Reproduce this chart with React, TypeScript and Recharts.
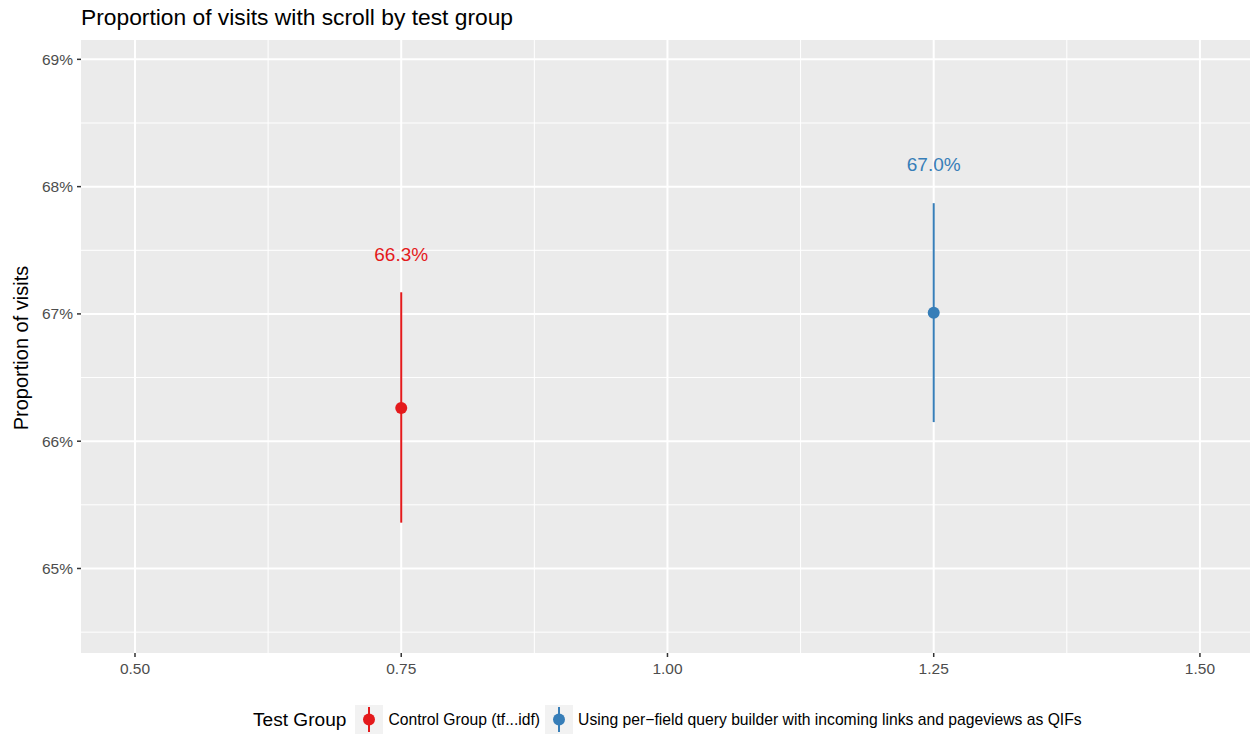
import React from 'react';
import {
  ComposedChart,
  XAxis,
  YAxis,
  CartesianGrid,
  Scatter,
  ErrorBar,
} from 'recharts';

// Test groups, their x positions and proportion estimates (percent) with CI bounds
const groups = [
  'Control Group (tf...idf)',
  'Using per\u2212field query builder with incoming links and pageviews as QIFs',
];
const groupColors = ['#E41A1C', '#377EB8'];
const positions = [0.75, 1.25];
const proportions = [66.26, 67.01];
const lowerBounds = [65.36, 66.15];
const upperBounds = [67.17, 67.87];

const xTicks = [0.5, 0.75, 1.0, 1.25, 1.5];
const xMinor = [0.625, 0.875, 1.125, 1.375];
const yTicks = [65, 66, 67, 68, 69];
const yMinor = [64.5, 65.5, 66.5, 67.5, 68.5];

const X_DOMAIN: [number, number] = [0.4493, 1.547];
const Y_DOMAIN: [number, number] = [64.336, 69.152];
const LABEL_OFFSET = 0.3;

const FONT = '"Liberation Sans", Arial, Helvetica, sans-serif';
const W = 1251;
const H = 734;

const series = groups.map((name, i) => ({
  name,
  color: groupColors[i],
  points: [
    {
      x: positions[i],
      y: proportions[i],
      err: [proportions[i] - lowerBounds[i], upperBounds[i] - proportions[i]],
    },
  ],
  label: [
    {
      x: positions[i],
      y: upperBounds[i] + LABEL_OFFSET,
      text: `${proportions[i].toFixed(1)}%`,
    },
  ],
}));

function Dot(color: string) {
  return (props: any) => <circle cx={props.cx} cy={props.cy} r={6} fill={color} />;
}

function ValueLabel(color: string) {
  return (props: any) => (
    <text
      x={props.cx}
      y={props.cy}
      textAnchor="middle"
      dominantBaseline="central"
      fontSize={19}
      fontFamily={FONT}
      fill={color}
    >
      {props.payload.text}
    </text>
  );
}

function LegendKey({ color }: { color: string }) {
  return (
    <svg width={28} height={29} style={{ display: 'block' }}>
      <rect x={0} y={0} width={28} height={29} fill="#F2F2F2" />
      <line x1={14} x2={14} y1={2} y2={27} stroke={color} strokeWidth={2} />
      <circle cx={14} cy={14.5} r={6} fill={color} />
    </svg>
  );
}

const tickStyle = { fill: '#4D4D4D', fontSize: 15.5, fontFamily: FONT };

export default function App() {
  return (
    <div
      style={{
        position: 'absolute',
        left: 0,
        top: 0,
        width: W,
        height: H,
        background: '#fff',
        fontFamily: FONT,
      }}
    >
      <ComposedChart
        width={W}
        height={H}
        margin={{ top: 40, right: 1, bottom: 51, left: 21 }}
      >
        <CartesianGrid
          fill="#EBEBEB"
          stroke="#FFFFFF"
          strokeWidth={1}
          horizontalValues={yMinor}
          verticalValues={xMinor}
        />
        <CartesianGrid
          stroke="#FFFFFF"
          strokeWidth={2}
          horizontalValues={yTicks}
          verticalValues={xTicks}
        />
        <XAxis
          type="number"
          dataKey="x"
          domain={X_DOMAIN}
          allowDataOverflow
          ticks={xTicks}
          tickFormatter={(v: number) => v.toFixed(2)}
          axisLine={false}
          tickLine={{ stroke: '#333333', strokeWidth: 1.5 }}
          tickSize={4}
          tickMargin={6}
          height={30}
          tick={tickStyle}
        />
        <YAxis
          type="number"
          dataKey="y"
          domain={Y_DOMAIN}
          allowDataOverflow
          ticks={yTicks}
          tickFormatter={(v: number) => `${v}%`}
          axisLine={false}
          tickLine={{ stroke: '#333333', strokeWidth: 1.5 }}
          tickSize={4}
          tickMargin={4}
          width={60}
          tick={tickStyle}
        />
        {series.map((s) => (
          <Scatter
            key={s.name}
            name={s.name}
            data={s.points}
            fill={s.color}
            shape={Dot(s.color)}
            isAnimationActive={false}
          >
            <ErrorBar
              dataKey="err"
              direction="y"
              width={0}
              stroke={s.color}
              strokeWidth={2}
              isAnimationActive={false}
            />
          </Scatter>
        ))}
        {series.map((s) => (
          <Scatter
            key={`${s.name}-label`}
            data={s.label}
            shape={ValueLabel(s.color)}
            isAnimationActive={false}
            legendType="none"
          />
        ))}
      </ComposedChart>

      <svg
        width={W}
        height={H}
        style={{ position: 'absolute', left: 0, top: 0, pointerEvents: 'none' }}
      >
        <text x={81} y={25} fontSize={22.8} fontFamily={FONT} fill="#000">
          Proportion of visits with scroll by test group
        </text>
        <text
          x={0}
          y={0}
          transform="translate(28, 348) rotate(-90)"
          textAnchor="middle"
          fontSize={20}
          fontFamily={FONT}
          fill="#000"
        >
          Proportion of visits
        </text>
      </svg>

      <div
        style={{
          position: 'absolute',
          left: 253,
          top: 705,
          height: 29,
          display: 'flex',
          alignItems: 'center',
          whiteSpace: 'nowrap',
          color: '#000',
        }}
      >
        <span style={{ fontSize: 19.1, marginRight: 9 }}>Test Group</span>
        {series.map((s) => (
          <React.Fragment key={s.name}>
            <LegendKey color={s.color} />
            <span style={{ fontSize: 15.7, marginLeft: 5, marginRight: 5 }}>{s.name}</span>
          </React.Fragment>
        ))}
      </div>
    </div>
  );
}
